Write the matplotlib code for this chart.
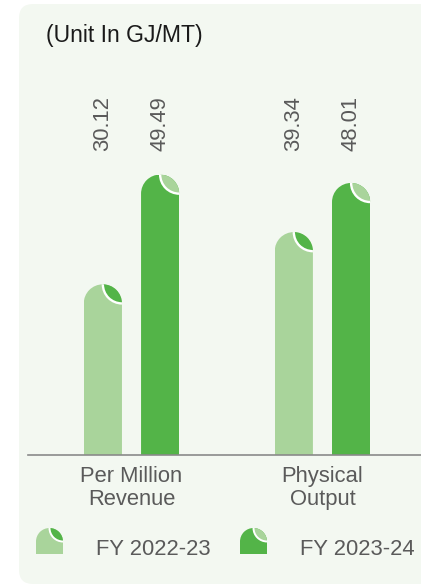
import matplotlib
matplotlib.use("Agg")
import matplotlib.pyplot as plt
from matplotlib.path import Path
from matplotlib.patches import Circle, FancyBboxPatch, PathPatch
from matplotlib.transforms import IdentityTransform

plt.rcParams["font.family"] = ["Liberation Sans", "DejaVu Sans"]

categories = ["Per Million\nRevenue", "Physical\nOutput"]
series_names = ["FY 2022-23", "FY 2023-24"]
fy2223 = [30.12, 39.34]
fy2324 = [49.49, 48.01]
unit_label = "(Unit In GJ/MT)"

LIGHT = "#a9d49b"
DARK = "#53b448"
PANEL = "#f3f8f1"
TEXT = "#5a5a5a"

W, H = 421, 585


def rounded_top(x0, y0, x1, y1):
    """Bar outline (display pixels) with a semicircular top."""
    r = (x1 - x0) / 2
    cx, cy = (x0 + x1) / 2, y1 - r
    arc = Path.arc(0, 180)
    verts = [(x0, y0), (x1, y0)]
    verts += [(cx + r * vx, cy + r * vy) for vx, vy in arc.vertices]
    verts += [(x0, y0)]
    codes = [Path.MOVETO, Path.LINETO, Path.LINETO] + list(arc.codes[1:]) + [Path.CLOSEPOLY]
    return Path(verts, codes)


def leaf(target, x0, y0, x1, y1, color, lw=1.7, zorder=3):
    """Lens of the other colour in the top right corner of a bar."""
    outline = rounded_top(x0, y0, x1, y1)
    r = (x1 - x0) / 2
    c = Circle((x1, y1), r, facecolor=color, edgecolor="white", linewidth=lw,
               transform=IdentityTransform(), zorder=zorder)
    if hasattr(target, "add_patch"):
        target.add_patch(c)
    else:
        target.add_artist(c)
    c.set_clip_path(outline, IdentityTransform())
    return outline


fig = plt.figure(figsize=(W / 100, H / 100), dpi=100)
fig.patch.set_facecolor("white")

# rounded card behind the chart
panel = FancyBboxPatch((19, 1), 420, 580, boxstyle="round,pad=0,rounding_size=14",
                       facecolor=PANEL, edgecolor="none",
                       transform=IdentityTransform(), zorder=-1)
fig.add_artist(panel)

ax = fig.add_axes([28 / W, (H - 455) / H, (W - 28) / W, 340 / H])
ax.set_facecolor("none")
ax.set_xlim(-0.542, 1.516)
ax.set_ylim(0, 60)

x = [0, 1]
width = 0.2
off = 0.15

bars_a = ax.bar([i - off for i in x], fy2223, width, color=LIGHT, zorder=2)
bars_b = ax.bar([i + off for i in x], fy2324, width, color=DARK, zorder=2)

for bars, other in ((bars_a, DARK), (bars_b, LIGHT)):
    for b in bars:
        bb = b.get_window_extent()
        outline = leaf(ax, bb.x0, bb.y0, bb.x1, bb.y1, other)
        b.set_clip_path(outline, IdentityTransform())

# value labels, rotated, sitting at a common height
for xs, vals in (([i - off for i in x], fy2223), ([i + off for i in x], fy2324)):
    for xi, v in zip(xs, vals):
        ax.text(xi, 53.6, f"{v:.2f}", rotation=90, ha="center", va="bottom",
                fontsize=15.8, color=TEXT)

ax.set_xticks(x, labels=categories)
ax.tick_params(axis="x", length=0, pad=8, labelsize=15.8, labelcolor=TEXT)
for lab in ax.get_xticklabels():
    lab.set_linespacing(1.12)
ax.set_yticks([])
for s in ("left", "right", "top"):
    ax.spines[s].set_visible(False)
ax.spines["bottom"].set_color("#8a8a8a")
ax.spines["bottom"].set_linewidth(1.2)

fig.text(46 / W, (H - 42) / H, unit_label, fontsize=16.6, color="#1a1a1a",
         ha="left", va="baseline")

# legend built from the same bar shape
legend_x = [36, 240]
text_x = [96, 300]
for lx, tx, name, col, other in zip(legend_x, text_x, series_names,
                                    [LIGHT, DARK], [DARK, LIGHT]):
    x0, x1 = lx, lx + 27
    y0, y1 = H - 554, H - 528
    outline = rounded_top(x0, y0, x1, y1)
    fig.add_artist(PathPatch(outline, facecolor=col, edgecolor="none",
                             transform=IdentityTransform(), zorder=2))
    leaf(fig, x0, y0, x1, y1, other, lw=1.4)
    fig.text(tx / W, (H - 555) / H, name, fontsize=15.8, color=TEXT,
             ha="left", va="baseline")

fig.savefig("out.png", dpi=100)
